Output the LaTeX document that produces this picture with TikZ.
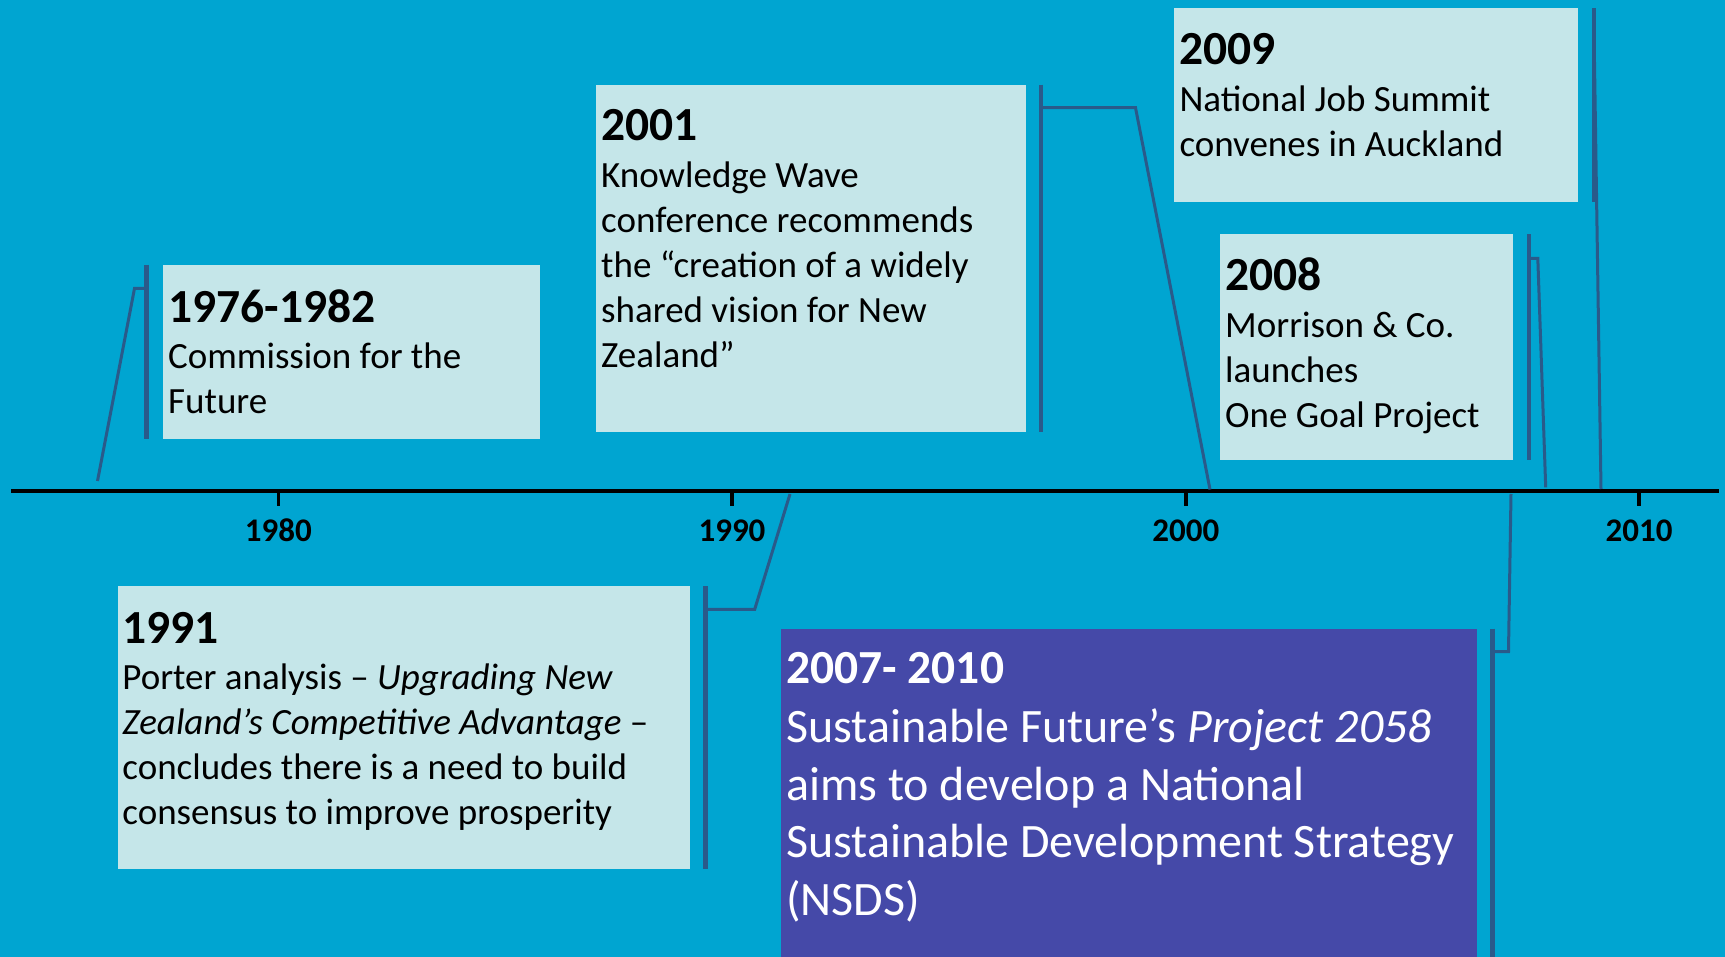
\documentclass[tikz,border=0pt]{standalone}
\usepackage{fontspec}
\setmainfont{Carlito}
\usepackage{xcolor}
\usepackage{tikz}
\usetikzlibrary{positioning}

\definecolor{seablue}{RGB}{0,165,209}
\definecolor{paleteal}{RGB}{197,230,233}
\definecolor{deepviolet}{RGB}{69,73,168}
\definecolor{linkblue}{RGB}{42,90,138}

% heading line of an event box (font spaces, not TikZ's fixed ones)
\newcommand{\evhead}[1]{\spaceskip=0pt \xspaceskip=0pt
    {\fontsize{47.5}{45}\selectfont\bfseries #1\par}\vspace{1.5pt}}

\begin{document}
\begin{tikzpicture}[x=1pt,y=-1pt,
    evbox/.style={fill=paleteal, draw=none, anchor=north west, inner sep=0pt, outer sep=0pt},
    evtext/.style={anchor=base west, inner sep=0pt, align=left, text width=#1,
        font=\fontsize{37}{45}\selectfont},
    evbar/.style={draw=linkblue, line width=4.5pt},
    evlink/.style={draw=linkblue, line width=3pt},
    yearlbl/.style={anchor=base, inner sep=0pt, font=\fontsize{33}{33}\selectfont\bfseries}]

    % Background
    \fill[seablue] (0,0) rectangle (1725,957);
    \useasboundingbox (0,0) rectangle (1725,957);

    % Time axis with decade ticks
    \coordinate (axL) at (11,491);
    \coordinate (axR) at (1719,491);
    \draw[line width=4pt] (axL) -- (axR);
    \foreach \yr/\xx in {1980/278.3, 1990/732, 2000/1185.8, 2010/1639} {
        \draw[line width=3.5pt] (\xx,491) -- (\xx,506);
        \node[yearlbl] (lbl\yr) at (\xx,541.7) {\yr};
    }

    % Points on the axis
    \coordinate (on1976) at (97.5,481);
    \coordinate (on1991) at (790,494);
    \coordinate (on2001) at (1210,489.5);
    \coordinate (on2007) at (1511,494);
    \coordinate (on2008) at (1545.7,487.3);
    \coordinate (on2009) at (1601,489);

    % 1976-1982
    \node[evbox, minimum width=377pt, minimum height=174pt] (box1976) at (163,265) {};
    \node[evtext=367pt] (txt1976) at ([xshift=5pt,yshift=-57.5pt]box1976.north west)
        {\evhead{1976-1982}Commission for the\\Future};
    \draw[evbar] ([xshift=-16.5pt]box1976.north west) -- ([xshift=-16.5pt]box1976.south west);
    \draw[evlink] ([xshift=-16.5pt,yshift=-23.5pt]box1976.north west) -- ++(-12,0) -- (on1976);

    % 2001
    \node[evbox, minimum width=429.5pt, minimum height=347pt] (box2001) at (596,84.7) {};
    \node[evtext=420pt] (txt2001) at ([xshift=5pt,yshift=-56pt]box2001.north west)
        {\evhead{2001}Knowledge Wave\\conference recommends\\the “creation of a widely\\shared vision for New\\Zealand”};
    \draw[evbar] ([xshift=15.5pt]box2001.north east) -- ([xshift=15.5pt]box2001.south east);
    \draw[evlink] ([xshift=15.5pt,yshift=-23pt]box2001.north east) -- ++(94.5,0) -- (on2001);

    % 2009
    \node[evbox, minimum width=403.7pt, minimum height=193.5pt] (box2009) at (1173.8,8.5) {};
    \node[evtext=395pt] (txt2009) at ([xshift=5.5pt,yshift=-56.5pt]box2009.north west)
        {\evhead{2009}National Job Summit\\convenes in Auckland};
    \draw[evbar] ([xshift=16.5pt]box2009.north east) -- ([xshift=16.5pt]box2009.south east);
    \draw[evlink] ([xshift=16.5pt,yshift=-22pt]box2009.north east) -- (on2009);

    % 2008
    \node[evbox, minimum width=293pt, minimum height=225.7pt] (box2008) at (1220,234.3) {};
    \node[evtext=285pt] (txt2008) at ([xshift=5pt,yshift=-56.7pt]box2008.north west)
        {\evhead{2008}Morrison \& Co.\\launches\\One Goal Project};
    \draw[evbar] ([xshift=16pt]box2008.north east) -- ([xshift=16pt]box2008.south east);
    \draw[evlink] ([xshift=16pt,yshift=-24pt]box2008.north east) -- ++(8.8,0) -- (on2008);

    % 1991
    \node[evbox, minimum width=572pt, minimum height=282.7pt] (box1991) at (117.7,586.3) {};
    \node[evtext=565pt] (txt1991) at ([xshift=4.5pt,yshift=-57pt]box1991.north west)
        {\evhead{1991}Porter analysis – \textit{Upgrading New}\\\textit{Zealand’s Competitive Advantage} –\\concludes there is a need to build\\consensus to improve prosperity};
    \draw[evbar] ([xshift=15.6pt]box1991.north east) -- ([xshift=15.6pt]box1991.south east);
    \draw[evlink] ([xshift=15.6pt,yshift=-23pt]box1991.north east) -- ++(49.4,0) -- (on1991);

    % 2007-2010
    \node[evbox, fill=deepviolet, minimum width=695.5pt, minimum height=328.5pt] (box2007) at (781,628.5) {};
    \node[evtext=687pt, text=white, font=\fontsize{48}{57.7}\selectfont] (txt2007)
        at ([xshift=5pt,yshift=-54.8pt]box2007.north west)
        {\evhead{2007- 2010}Sustainable Future’s \textit{Project 2058}\\aims to develop a National\\Sustainable Development Strategy\\(NSDS)};
    \draw[evbar] ([xshift=16pt]box2007.north east) -- ([xshift=16pt]box2007.south east);
    \draw[evlink] ([xshift=16pt,yshift=-23pt]box2007.north east) -- ++(16,0) -- (on2007);
\end{tikzpicture}
\end{document}
